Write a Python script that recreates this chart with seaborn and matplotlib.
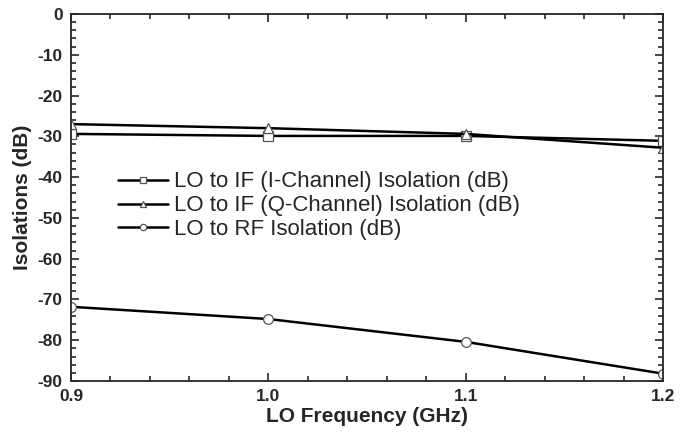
import pandas as pd
import matplotlib
matplotlib.use("Agg")
import matplotlib.pyplot as plt
import seaborn as sns
from matplotlib.ticker import MultipleLocator, FormatStrFormatter

# Datos
freq = [0.9, 1.0, 1.1, 1.2]
iso_i = [-29.4, -29.9, -29.9, -31.1]
iso_q = [-27.0, -28.0, -29.4, -32.8]
iso_rf = [-71.8, -74.8, -80.4, -88.2]

labels = ["LO to IF (I-Channel) Isolation (dB)",
          "LO to IF (Q-Channel) Isolation (dB)",
          "LO to RF Isolation (dB)"]
markers = ["s", "^", "o"]

sns.set_style("ticks")
plt.rcParams['font.family'] = ['Liberation Sans', 'DejaVu Sans']
plt.rcParams['axes.unicode_minus'] = False

fig = plt.figure(figsize=(6.83, 4.32), dpi=100)
ax = fig.add_axes([71 / 683, 1 - 381 / 432, 592 / 683, 367 / 432])

for vals, lab, m in zip([iso_i, iso_q, iso_rf], labels, markers):
    df = pd.DataFrame({'freq': freq, 'iso': vals})
    sns.lineplot(x='freq', y='iso', data=df, ax=ax, color='black', linewidth=1.8,
                 marker=m, markersize=7, markerfacecolor='white',
                 markeredgecolor='#555555', markeredgewidth=0.9, label=lab)

ax.set_xlim(0.9, 1.2)
ax.set_ylim(-90, 0)
ax.xaxis.set_major_locator(MultipleLocator(0.1))
ax.xaxis.set_minor_locator(MultipleLocator(0.02))
ax.xaxis.set_major_formatter(FormatStrFormatter('%.1f'))
ax.yaxis.set_major_locator(MultipleLocator(10))
ax.yaxis.set_minor_locator(MultipleLocator(2))
ax.tick_params(which='both', direction='in', top=True, right=True, width=1.2)
ax.tick_params(which='major', length=6, labelsize=12.5, pad=6)
ax.tick_params(which='minor', length=3.5)
for s in ax.spines.values():
    s.set_linewidth(1.3)
for t in ax.get_xticklabels() + ax.get_yticklabels():
    t.set_fontweight('bold')

ax.set_xlabel("LO Frequency (GHz)", fontsize=15, fontweight='bold', labelpad=2)
ax.set_ylabel("Isolations (dB)", fontsize=15, fontweight='bold', labelpad=4)

ax.legend(loc='upper left', bbox_to_anchor=(0.079, 0.571), frameon=False,
          fontsize=16, handlelength=2.25, handletextpad=0.3, labelspacing=0.13,
          borderaxespad=0, borderpad=0, markerscale=0.65)

plt.savefig("out.png", dpi=100)
